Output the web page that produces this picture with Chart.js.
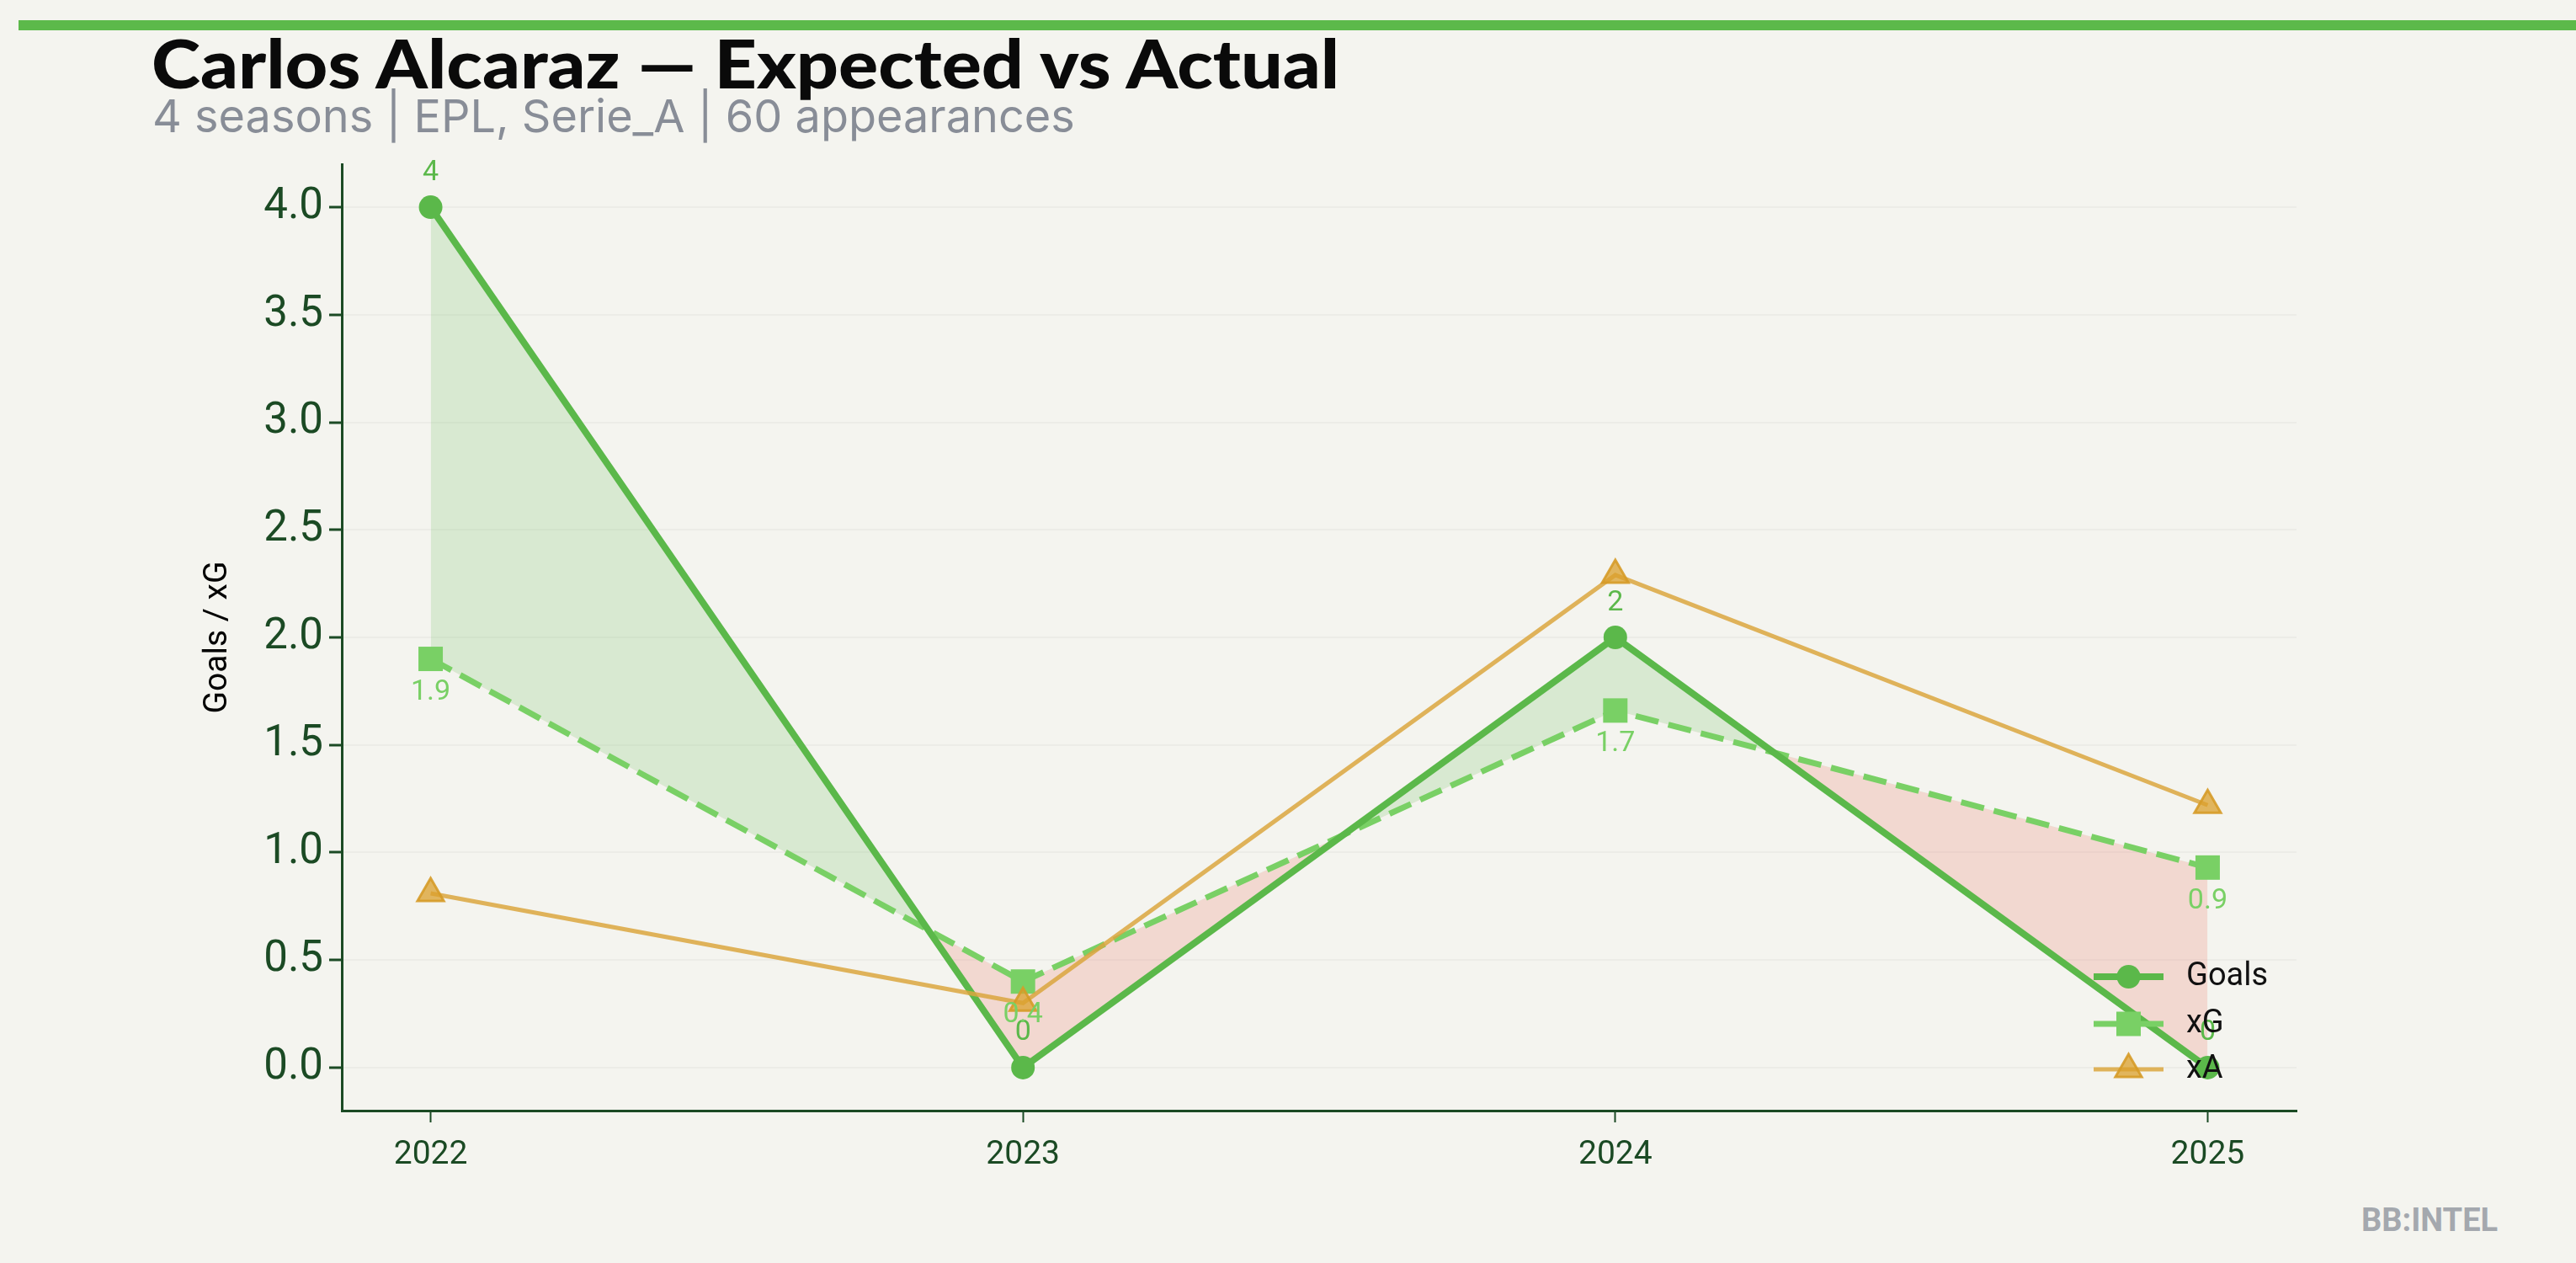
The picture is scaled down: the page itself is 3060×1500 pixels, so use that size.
<!DOCTYPE html>
<html>
<head>
<meta charset="utf-8">
<title>Carlos Alcaraz — Expected vs Actual</title>
<script src="https://cdn.jsdelivr.net/npm/chart.js@4.4.1/dist/chart.umd.min.js"></script>
<style>
  html, body { margin: 0; padding: 0; background: #f4f4ef; }
  #wrap { position: relative; width: 3060px; height: 1500px; overflow: hidden; }
  #chart { position: absolute; left: 0; top: 0; }
  .topbar { position: absolute; left: 22px; top: 24px; width: 3038px; height: 12px; background: #5cb94a; }
  .title {
    position: absolute; left: 180px; top: 34px; white-space: nowrap;
    font-family: Lato, sans-serif; font-weight: 900; font-size: 80px; line-height: 1; color: #0a0a0a;
    transform: scaleX(1.1); transform-origin: 0 0;
  }
  .subtitle {
    position: absolute; left: 181px; top: 111px; white-space: nowrap;
    font-family: Inter, sans-serif; font-size: 54px; line-height: 1; color: #888d97;
  }
  .mark {
    position: absolute; left: 2805px; top: 1430px; white-space: nowrap;
    font-family: Roboto, sans-serif; font-weight: 700; font-size: 38px; line-height: 1; color: #a4a8ae;
  }
</style>
</head>
<body>
<div id="wrap">
  <div class="topbar"></div>
  <div class="title">Carlos Alcaraz — Expected vs Actual</div>
  <div class="subtitle">4 seasons | EPL, Serie_A | 60 appearances</div>
  <div class="mark">BB:INTEL</div>
  <canvas id="chart" width="3060" height="1500"></canvas>
</div>
<script>
// season data
const years = [2022, 2023, 2024, 2025];
const goals = [4, 0, 2, 0];
const xg = [1.90, 0.40, 1.66, 0.93];
const xa = [0.81, 0.30, 2.29, 1.22];
const yTicks = [0, 0.5, 1, 1.5, 2, 2.5, 3, 3.5, 4];
const seriesNames = ["Goals", "xG", "xA"];

const GOALS_C = "#5bb84a";
const XG_C = "#79d065";
const XA_C = "rgba(218, 166, 62, 0.85)";
const XA_FILL = "rgba(219, 160, 44, 0.75)";
const AXIS_C = "#1b4a24";

function drawMarker(ctx, style, x, y, r, fill, stroke) {
  ctx.beginPath();
  if (style === "circle") {
    ctx.arc(x, y, r, 0, Math.PI * 2);
  } else if (style === "rect") {
    const s = r * Math.SQRT1_2;
    ctx.rect(x - s, y - s, s * 2, s * 2);
  } else {
    ctx.moveTo(x, y - r);
    ctx.lineTo(x + r * 0.866, y + r / 2);
    ctx.lineTo(x - r * 0.866, y + r / 2);
    ctx.closePath();
  }
  ctx.fillStyle = fill;
  ctx.fill();
  if (stroke) {
    ctx.lineWidth = 3;
    ctx.strokeStyle = stroke;
    ctx.stroke();
  }
}

// legend in the lower right corner of the plot, line + marker like matplotlib
const cornerLegend = {
  id: "cornerLegend",
  afterDraw(chart) {
    const { ctx, chartArea } = chart;
    const looks = [
      { color: GOALS_C, lw: 8, style: "circle", r: 14, fill: GOALS_C },
      { color: XG_C, lw: 7, style: "rect", r: 20.5, fill: XG_C },
      { color: XA_C, lw: 5, style: "triangle", r: 18, fill: XA_FILL, stroke: "rgba(214,155,40,0.9)" }
    ];
    const offsets = [159, 103, 49];
    ctx.save();
    seriesNames.forEach((name, i) => {
      const y = chartArea.bottom - offsets[i];
      const x0 = chartArea.right - 241;
      const x1 = chartArea.right - 158;
      ctx.beginPath();
      ctx.moveTo(x0, y);
      ctx.lineTo(x1, y);
      ctx.lineWidth = looks[i].lw;
      ctx.strokeStyle = looks[i].color;
      ctx.stroke();
      drawMarker(ctx, looks[i].style, (x0 + x1) / 2, y, looks[i].r, looks[i].fill, looks[i].stroke);
      ctx.fillStyle = "#111";
      ctx.font = "38px Roboto";
      ctx.textAlign = "left";
      ctx.textBaseline = "middle";
      ctx.fillText(name, chartArea.right - 131, y);
    });
    ctx.restore();
  }
};

// value labels: goals above, xG below
const pointLabels = {
  id: "pointLabels",
  afterDatasetsDraw(chart) {
    const ctx = chart.ctx;
    ctx.save();
    ctx.font = "34px Roboto";
    ctx.textAlign = "center";
    ctx.textBaseline = "middle";
    chart.getDatasetMeta(0).data.forEach((pt, i) => {
      ctx.fillStyle = GOALS_C;
      ctx.fillText(String(goals[i]), pt.x, pt.y - 41);
    });
    chart.getDatasetMeta(1).data.forEach((pt, i) => {
      ctx.fillStyle = XG_C;
      ctx.fillText(xg[i].toFixed(1), pt.x, pt.y + 40);
    });
    ctx.restore();
  }
};

const toPoints = (vals) => vals.map((v, i) => ({ x: years[i], y: v }));

const chart = new Chart(document.getElementById("chart"), {
  type: "line",
  data: {
    datasets: [
      {
        label: seriesNames[0],
        data: toPoints(goals),
        borderColor: GOALS_C,
        borderWidth: 8,
        pointStyle: "circle",
        pointRadius: 14,
        pointBackgroundColor: GOALS_C,
        pointBorderWidth: 0,
        fill: { target: 1, above: "rgba(91,184,74,0.18)", below: "rgba(233,80,62,0.17)" },
        tension: 0,
        order: 1
      },
      {
        label: seriesNames[1],
        data: toPoints(xg),
        borderColor: XG_C,
        borderWidth: 7,
        borderDash: [28, 12],
        pointStyle: "rect",
        pointRadius: 20.5,
        pointBackgroundColor: XG_C,
        pointBorderWidth: 0,
        fill: false,
        tension: 0,
        order: 2
      },
      {
        label: seriesNames[2],
        data: toPoints(xa),
        borderColor: XA_C,
        borderWidth: 5,
        pointStyle: "triangle",
        pointRadius: 18,
        pointBackgroundColor: XA_FILL,
        pointBorderColor: "rgba(214,155,40,0.9)",
        pointBorderWidth: 3,
        fill: false,
        tension: 0,
        order: 0
      }
    ]
  },
  options: {
    responsive: false,
    animation: false,
    devicePixelRatio: 1,
    layout: { padding: { left: 236, top: 195, right: 332, bottom: 0 } },
    plugins: {
      legend: { display: false },
      title: { display: false },
      tooltip: { enabled: false },
      filler: { drawTime: "beforeDatasetsDraw" }
    },
    scales: {
      x: {
        type: "linear",
        min: 2021.85,
        max: 2025.15,
        afterBuildTicks: (scale) => { scale.ticks = years.map((v) => ({ value: v })); },
        afterFit: (scale) => { scale.height = 181; },
        ticks: {
          color: AXIS_C,
          font: { family: "Roboto", size: 39 },
          padding: 16,
          maxRotation: 0,
          callback: (v) => String(v)
        },
        grid: { drawOnChartArea: false, tickColor: AXIS_C, tickLength: 14, tickWidth: 2 },
        border: { color: AXIS_C, width: 3 }
      },
      y: {
        min: -0.2,
        max: 4.2,
        afterBuildTicks: (scale) => { scale.ticks = yTicks.map((v) => ({ value: v })); },
        afterFit: (scale) => { scale.width = 170; },
        ticks: {
          color: AXIS_C,
          font: { family: "Roboto", size: 51 },
          padding: 7,
          callback: (v) => Number(v).toFixed(1)
        },
        grid: { color: "rgba(0,0,0,0.03)", lineWidth: 2, tickColor: AXIS_C, tickLength: 15, tickWidth: 3 },
        border: { color: AXIS_C, width: 3 },
        title: { display: true, text: "Goals / xG", color: "#000", font: { family: "Roboto", size: 39 }, padding: 0 }
      }
    }
  },
  plugins: [pointLabels, cornerLegend]
});
</script>
</body>
</html>
